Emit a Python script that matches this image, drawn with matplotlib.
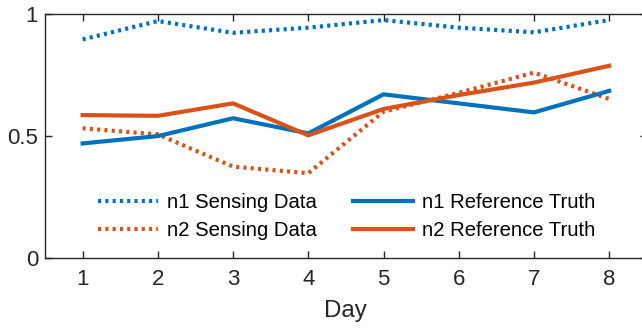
import numpy as np
import matplotlib
matplotlib.use('Agg')
import matplotlib.pyplot as plt

plt.rcParams['font.family'] = ['Liberation Sans', 'DejaVu Sans']

days = [1, 2, 3, 4, 5, 6, 7, 8]
n1_sensing = [0.894, 0.969, 0.921, 0.942, 0.973, 0.942, 0.923, 0.973]
n2_sensing = [0.530, 0.505, 0.373, 0.346, 0.598, 0.675, 0.758, 0.650]
n1_truth = [0.468, 0.498, 0.571, 0.509, 0.669, 0.632, 0.595, 0.683]
n2_truth = [0.584, 0.581, 0.632, 0.501, 0.609, 0.666, 0.717, 0.786]

blue = '#0072BD'
orange = '#D95319'
axcol = '#262626'

fig = plt.figure(figsize=(6.42, 3.30), dpi=100)
ax = fig.add_axes([45 / 642, 1 - 257.7 / 330, 601.8 / 642, 244.2 / 330])

dot = (0, (0.75, 1.0))
ax.plot(days, n1_sensing, color=blue, lw=3, linestyle=dot, label='n1 Sensing Data')
ax.plot(days, n2_sensing, color=orange, lw=3, linestyle=dot, label='n2 Sensing Data')
ax.plot(days, n1_truth, color=blue, lw=3, label='n1 Reference Truth')
ax.plot(days, n2_truth, color=orange, lw=3, label='n2 Reference Truth')

ax.set_xlim(0.5, 8.5)
ax.set_ylim(0, 1)
ax.set_xticks(days)
ax.set_yticks([0, 0.5, 1])
ax.set_yticklabels(['0', '0.5', '1'])
ax.tick_params(direction='in', length=5, width=1, colors=axcol, labelcolor='#262626',
               labelsize=16, top=True, right=True)
ax.tick_params(axis='x', pad=8)
ax.tick_params(axis='y', pad=5)
for s in ax.spines.values():
    s.set_color(axcol)
    s.set_linewidth(1)
ax.set_xlabel('Day', fontsize=17.4, color='#262626', labelpad=7)

ax.legend(ncol=2, frameon=False, fontsize=14.6, loc='upper left',
          bbox_to_anchor=(0.088, 0.265), handlelength=2.95, handletextpad=0.44,
          columnspacing=1.8, labelspacing=0.45, borderpad=0, borderaxespad=0)

fig.savefig('out.png', dpi=100)
